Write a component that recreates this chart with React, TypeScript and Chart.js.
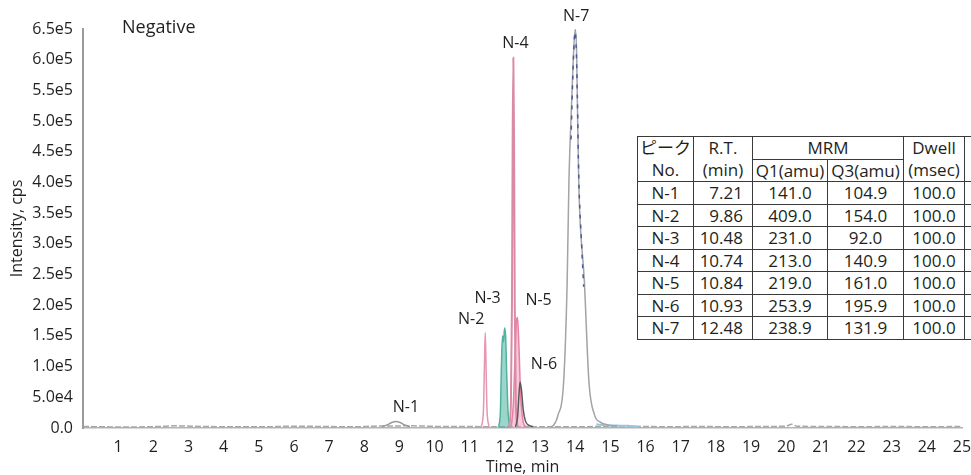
import React, { useEffect, useRef } from "react";
import { Chart, registerables } from "chart.js";

Chart.register(...registerables);

// ---- axis tick labels ----
const xTickLabels = ["1","2","3","4","5","6","7","8","9","10","11","12","13","14","15","16","17","18","19","20","21","22","23","24","25"];
const yTickLabels = ["0.0","5.0e4","1.0e5","1.5e5","2.0e5","2.5e5","3.0e5","3.5e5","4.0e5","4.5e5","5.0e5","5.5e5","6.0e5","6.5e5"];

// ---- chromatogram traces (time, min / intensity, cps) ----
const baseTime = [0, 0.6, 1.2, 2.2, 2.6, 3.4, 4.3, 5.2, 6.0, 6.8, 7.7, 8.3, 9.4, 10.2, 11.0, 11.3, 13.2, 15.8, 16.6, 17.5, 18.4, 19.4, 20.0, 20.15, 20.3, 21.2, 22.1, 23.0, 24.0, 25];
const baseIntensity = [2500, 2000, 1500, 2500, 3500, 2500, 2000, 2000, 3000, 2500, 2000, 3000, 3500, 2500, 2500, 2000, 2000, 2500, 2000, 2500, 2000, 2500, 3000, 6000, 3000, 2500, 2000, 2500, 2000, 2500];

const n1Time = [8.5, 8.65, 8.78, 8.9, 9.02, 9.15, 9.3];
const n1Intensity = [2000, 5000, 9000, 10500, 9000, 5000, 2000];

const n2Time = [11.33, 11.39, 11.42, 11.44, 11.46, 11.49, 11.55];
const n2Intensity = [2000, 30000, 110000, 155000, 110000, 30000, 2000];

const n3Time = [11.82, 11.87, 11.9, 11.93, 11.96, 11.99, 12.02, 12.05, 12.09, 12.14];
const n3Intensity = [2000, 25000, 100000, 150000, 140000, 163000, 150000, 90000, 25000, 2000];

const n4Time = [12.12, 12.17, 12.2, 12.22, 12.24, 12.26, 12.28, 12.31, 12.36];
const n4Intensity = [2000, 40000, 200000, 470000, 603000, 470000, 200000, 40000, 2000];

const n5Time = [12.18, 12.24, 12.29, 12.33, 12.36, 12.4, 12.45, 12.52, 12.6];
const n5Intensity = [2000, 40000, 120000, 175000, 180000, 130000, 50000, 10000, 2000];

const n6Time = [12.3, 12.36, 12.4, 12.43, 12.47, 12.52, 12.58, 12.66, 12.8];
const n6Intensity = [2000, 18000, 55000, 75000, 62000, 30000, 12000, 5000, 2500];

const n7Time = [13.3, 13.38, 13.51, 13.67, 13.77, 13.82, 13.9, 13.96, 14.0, 14.04, 14.06, 14.1, 14.26, 14.39, 14.55, 14.7, 14.92, 15.2];
const n7Intensity = [2000, 4000, 21000, 75000, 238000, 400000, 534000, 620000, 650000, 610000, 534000, 400000, 238000, 75000, 21000, 10000, 5000, 3000];

const n7CoreTime = [13.88, 13.93, 13.97, 14.0, 14.03, 14.06, 14.1, 14.18, 14.24];
const n7CoreIntensity = [470000, 570000, 630000, 645000, 615000, 540000, 410000, 300000, 230000];

const n7TailTime = [14.6, 14.9, 15.2, 15.5, 15.8];
const n7TailIntensity = [6000, 4500, 4000, 3500, 2500];

// ---- peak labels ----
const peakNames = ["N-1", "N-2", "N-3", "N-4", "N-5", "N-6", "N-7"];

// ---- MRM table ----
const tablePeak = ["N-1", "N-2", "N-3", "N-4", "N-5", "N-6", "N-7"];
const tableRT = ["7.21", "9.86", "10.48", "10.74", "10.84", "10.93", "12.48"];
const tableQ1 = ["141.0", "409.0", "231.0", "213.0", "219.0", "253.9", "238.9"];
const tableQ3 = ["104.9", "154.0", "92.0", "140.9", "161.0", "195.9", "131.9"];
const tableDwell = ["100.0", "100.0", "100.0", "100.0", "100.0", "100.0", "100.0"];

const FONT = "'Open Sans', 'Noto Sans', 'Noto Sans CJK JP', sans-serif";

function pts(t: number[], v: number[]) {
  return t.map((x, i) => ({ x, y: v[i] }));
}

function peakOf(t: number[], v: number[]) {
  let k = 0;
  v.forEach((y, i) => { if (y > v[k]) k = i; });
  return { x: t[k], y: v[k] };
}

const peakSeries = [
  [n1Time, n1Intensity],
  [n2Time, n2Intensity],
  [n3Time, n3Intensity],
  [n4Time, n4Intensity],
  [n5Time, n5Intensity],
  [n6Time, n6Intensity],
  [n7Time, n7Intensity],
];
// label offsets from the peak apex, in pixels
const labelOffsets = [[10, -14], [-14, -13], [-17, -30], [2, -14], [21, -17], [24, -18], [1, -13]];

const labelPlugin = {
  id: "peakLabels",
  afterDatasetsDraw(chart: any) {
    const { ctx, chartArea, scales } = chart;
    const xs = scales.x, ys = scales.y;
    ctx.save();
    ctx.fillStyle = "#231f20";
    ctx.textAlign = "center";
    ctx.textBaseline = "middle";
    ctx.font = `16px ${FONT}`;
    peakSeries.forEach(([t, v], i) => {
      const p = peakOf(t, v);
      const px = xs.getPixelForValue(p.x);
      const py = ys.getPixelForValue(p.y);
      ctx.fillText(peakNames[i], px + labelOffsets[i][0], py + labelOffsets[i][1]);
    });
    ctx.textAlign = "left";
    ctx.font = `18px ${FONT}`;
    ctx.fillText("Negative", chartArea.left + 39, chartArea.top - 1);
    ctx.restore();
  },
};

const line = (data: any, color: string, width: number, order: number, extra: any = {}) => ({
  data,
  borderColor: color,
  borderWidth: width,
  pointRadius: 0,
  cubicInterpolationMode: "monotone",
  fill: false,
  order,
  ...extra,
});

export default function App() {
  const canvasRef = useRef<HTMLCanvasElement | null>(null);

  useEffect(() => {
    const canvas = canvasRef.current;
    if (!canvas) return;
    const chart = new Chart(canvas, {
      type: "line",
      data: {
        datasets: [
          line(pts(baseTime, baseIntensity), "#a8a8a8", 1.5, 20, { borderDash: [6, 2] }),
          line(pts(n1Time, n1Intensity), "#9a9a9a", 1.5, 10),
          line(pts(n2Time, n2Intensity), "#e596b0", 1.5, 9),
          line(pts(n3Time, n3Intensity), "#4fb39f", 1.5, 8, { fill: "origin", backgroundColor: "rgba(79,179,159,0.55)" }),
          line(pts(n5Time, n5Intensity), "#e87fa5", 1.5, 7, { fill: "origin", backgroundColor: "rgba(240,150,185,0.5)" }),
          line(pts(n4Time, n4Intensity), "#d98aa5", 2, 6),
          line(pts(n6Time, n6Intensity), "#5a5a5a", 1.5, 5),
          line(pts(n7TailTime, n7TailIntensity), "#9cc6e0", 2, 4),
          line(pts(n7Time, n7Intensity), "#a3a3a8", 1.5, 3),
          line(pts(n7CoreTime, n7CoreIntensity), "#4a5a9c", 1.5, 2, { borderDash: [4, 6] }),
        ],
      },
      options: {
        animation: false,
        responsive: false,
        devicePixelRatio: 1,
        layout: { padding: { top: 29, right: 9, left: 0, bottom: 0 } },
        plugins: { legend: { display: false }, tooltip: { enabled: false } },
        scales: {
          x: {
            type: "linear",
            min: 0,
            max: 25,
            grid: { display: true, drawOnChartArea: false, drawTicks: false },
            border: { display: true, color: "#b4b4b4", width: 1.5 },
            ticks: {
              stepSize: 1,
              autoSkip: false,
              maxRotation: 0,
              padding: 10,
              color: "#231f20",
              font: { family: FONT, size: 16 },
              callback: (v: any) => (v === 0 ? "" : xTickLabels[Math.round(v) - 1]),
            },
            title: {
              display: true,
              text: "Time, min",
              color: "#231f20",
              font: { family: FONT, size: 16 },
              padding: { top: 0, bottom: -2 },
            },
            afterFit: (s: any) => {
              s.height = 47;
              s.paddingLeft = 0;
              s.paddingRight = 9;
            },
          },
          y: {
            min: 0,
            max: 650000,
            grid: { display: true, drawOnChartArea: false, drawTicks: false },
            border: { display: true, color: "#9a9a9a", width: 2 },
            ticks: {
              stepSize: 50000,
              padding: 10,
              color: "#231f20",
              font: { family: FONT, size: 16 },
              callback: (v: any) => yTickLabels[Math.round(v / 50000)],
            },
            title: {
              display: true,
              text: "Intensity, cps",
              color: "#231f20",
              font: { family: FONT, size: 16 },
              padding: { top: 8, bottom: 0 },
            },
            afterFit: (s: any) => { s.width = 83; },
          },
        },
      } as any,
      plugins: [labelPlugin],
    });
    return () => chart.destroy();
  }, []);

  const cell: React.CSSProperties = {
    border: "1px solid #3a3a3a",
    padding: "0 1px",
    height: 22,
    boxSizing: "border-box",
    lineHeight: "21px",
    textAlign: "center",
    whiteSpace: "nowrap",
    overflow: "hidden",
    fontWeight: "normal",
    fontFamily: FONT,
    fontSize: "17px",
    color: "#231f20",
  };
  const twoLine: React.CSSProperties = { ...cell, lineHeight: "22px" };
  const rtCell: React.CSSProperties = { ...cell, textAlign: "right", paddingRight: "9px" };
  const widths = [56, 59, 75, 76, 61, 40];
  const tableWidth = widths.reduce((a, b) => a + b, 0);

  return (
    <div
      style={{
        position: "fixed",
        left: 0,
        top: 0,
        width: 971,
        height: 475,
        overflow: "hidden",
        background: "#fff",
      }}
    >
      <canvas ref={canvasRef} width={971} height={475} style={{ display: "block", width: 971, height: 475 }} />
      <table
        style={{
          position: "absolute",
          left: 637,
          top: 136,
          width: tableWidth,
          borderCollapse: "collapse",
          tableLayout: "fixed",
          background: "#fff",
          fontFamily: FONT,
          fontSize: "17px",
          color: "#231f20",
        }}
      >
        <colgroup>
          {widths.map((w, i) => (
            <col key={i} style={{ width: w }} />
          ))}
        </colgroup>
        <thead>
          <tr>
            <th style={twoLine} rowSpan={2}>ピーク<br />No.</th>
            <th style={twoLine} rowSpan={2}>R.T.<br />(min)</th>
            <th style={cell} colSpan={2}>MRM</th>
            <th style={twoLine} rowSpan={2}>Dwell<br />(msec)</th>
            <th style={cell} rowSpan={2}></th>
          </tr>
          <tr>
            <th style={cell}>Q1(amu)</th>
            <th style={cell}>Q3(amu)</th>
          </tr>
        </thead>
        <tbody>
          {tablePeak.map((p, i) => (
            <tr key={p}>
              <td style={{ ...cell, height: 22.5 }}>{p}</td>
              <td style={{ ...rtCell, height: 22.5 }}>{tableRT[i]}</td>
              <td style={{ ...cell, height: 22.5 }}>{tableQ1[i]}</td>
              <td style={{ ...cell, height: 22.5 }}>{tableQ3[i]}</td>
              <td style={{ ...cell, height: 22.5 }}>{tableDwell[i]}</td>
              <td style={{ ...cell, height: 22.5 }}></td>
            </tr>
          ))}
        </tbody>
      </table>
    </div>
  );
}
